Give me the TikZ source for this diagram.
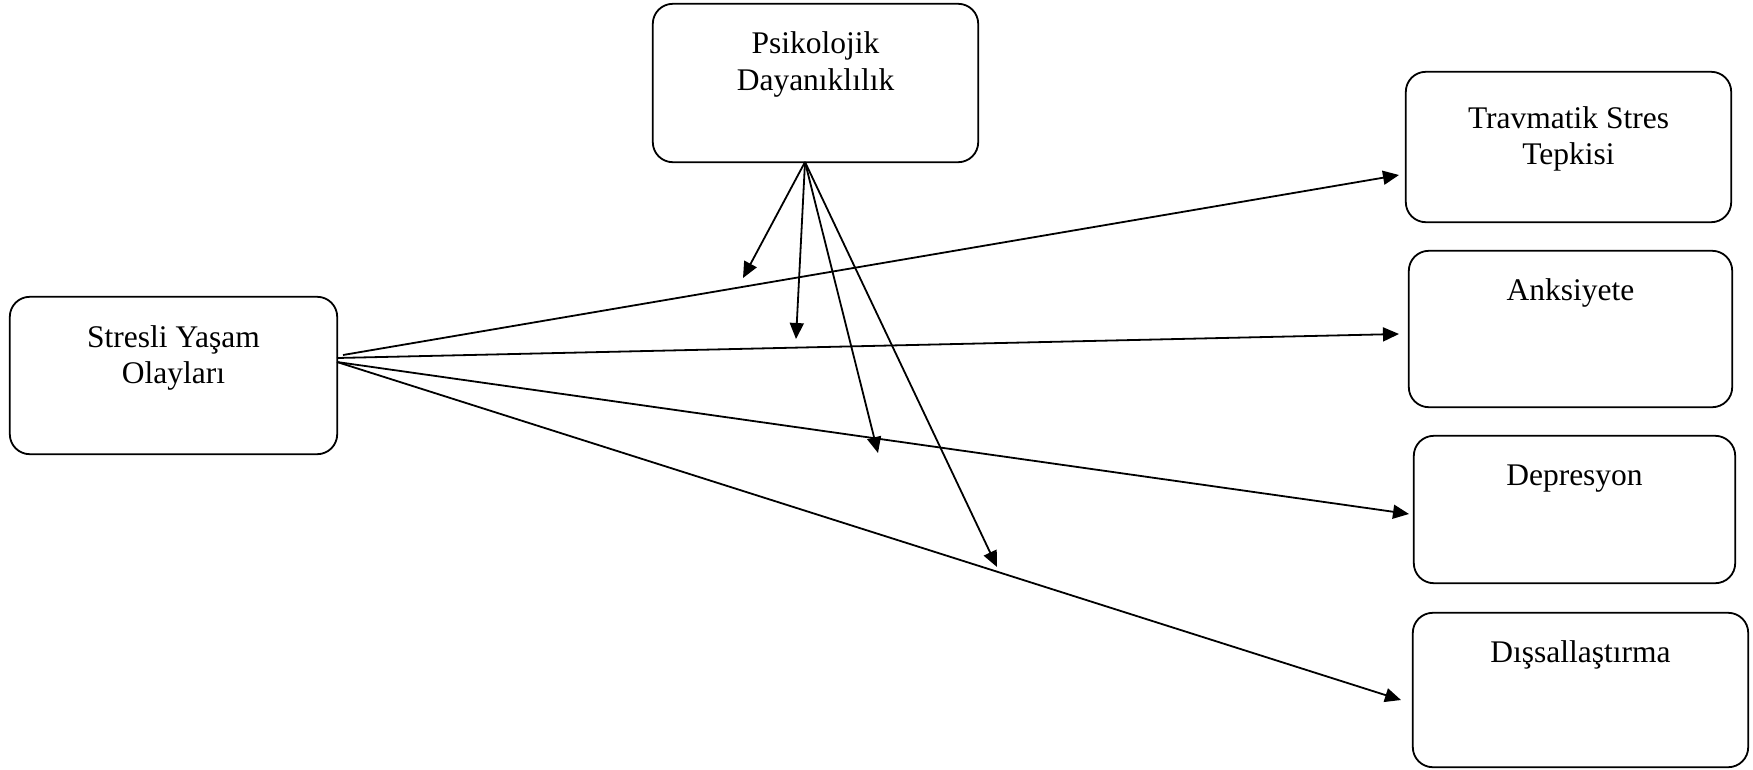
\documentclass[tikz,border=0pt]{standalone}
\usepackage{fontspec}
\setmainfont{Liberation Serif}
\usetikzlibrary{arrows.meta}
\begin{document}
\begin{tikzpicture}[x=1pt,y=-1pt,
  box/.style={draw=black,line width=1.8pt,rounded corners=20pt,inner sep=0pt},
  frame/.style={minimum width=#1,inner sep=0pt},
  txt/.style={align=center,font=\fontsize{31.5}{37}\selectfont,inner sep=0pt,anchor=base},
  arr/.style={line width=1.8pt,-{Triangle[length=16pt,width=14pt]}}]
\useasboundingbox (0,0) rectangle (1753,769);
% boxes
\node[frame=327pt,minimum height=157pt] (s) at (173.5,375.5) {};
\draw[box] (s.north west) rectangle (s.south east);
\node[frame=325pt,minimum height=158pt] (p) at (815.5,83) {};
\draw[box] (p.north west) rectangle (p.south east);
\node[frame=325pt,minimum height=150pt] (t) at (1568.5,147) {};
\draw[box] (t.north west) rectangle (t.south east);
\node[frame=323pt,minimum height=156pt] (a) at (1570.5,329) {};
\draw[box] (a.north west) rectangle (a.south east);
\node[frame=321pt,minimum height=147pt] (d) at (1574.5,509.5) {};
\draw[box] (d.north west) rectangle (d.south east);
\node[frame=335pt,minimum height=154pt] (x) at (1580.5,690) {};
\draw[box] (x.north west) rectangle (x.south east);
% texts
\node[txt] (st1) at (173.5,347) {Stresli Yaşam};
\node[txt] (st2) at (173.5,383) {Olayları};
\node[txt] (pt1) at (815.5,53) {Psikolojik};
\node[txt] (pt2) at (815.5,90) {Dayanıklılık};
\node[txt] (tt1) at (1568.5,128) {Travmatik Stres};
\node[txt] (tt2) at (1568.5,164) {Tepkisi};
\node[txt] (at1) at (1570.5,300) {Anksiyete};
\node[txt] (dt1) at (1574.5,485) {Depresyon};
\node[txt] (xt1) at (1580.5,662) {Dışsallaştırma};
% connector points
\coordinate (s1) at (343,355);
\coordinate (s2) at (337,358);
\coordinate (s3) at (337,362);
\coordinate (t1) at (1399,175);
\coordinate (a1) at (1399,334);
\coordinate (d1) at (1409,514);
\coordinate (x1) at (1401,700);
\coordinate (p0) at (805,162);
\coordinate (m1) at (743,278);
\coordinate (m2) at (796,339);
\coordinate (m3) at (878,453);
\coordinate (m4) at (997,567);
% connectors
\draw[arr] (s1) -- (t1);
\draw[arr] (s2) -- (a1);
\draw[arr] (s3) -- (d1);
\draw[arr] (s3) -- (x1);
\draw[arr] (p0) -- (m1);
\draw[arr] (p0) -- (m2);
\draw[arr] (p0) -- (m3);
\draw[arr] (p0) -- (m4);
\end{tikzpicture}
\end{document}
